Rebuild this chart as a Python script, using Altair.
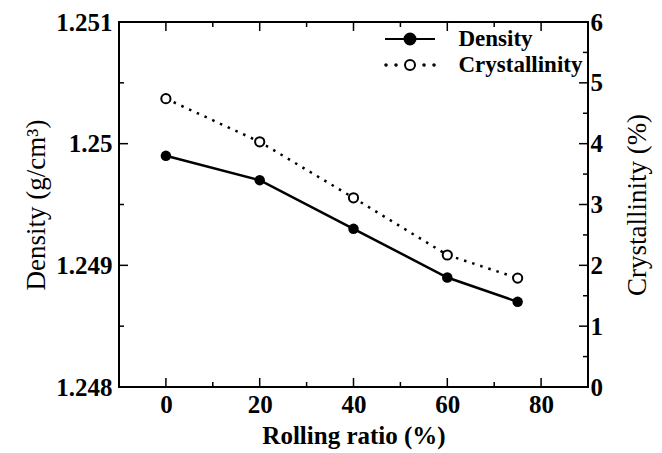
import json
import altair as alt
import pandas as pd

# ---- data ----
ratio = [0, 20, 40, 60, 75]
density = [1.2499, 1.2497, 1.2493, 1.2489, 1.2487]
crystallinity = [4.74, 4.03, 3.11, 2.17, 1.79]
series_names = ["Density", "Crystallinity"]

x_major = [0, 20, 40, 60, 80]
x_minor = [10, 30, 50, 70]
dens_major = [1.248, 1.249, 1.25, 1.251]
dens_minor = [1.2485, 1.2495, 1.2505]
cry_major = [0, 1, 2, 3, 4, 5, 6]
cry_minor = [0.5, 1.5, 2.5, 3.5, 4.5, 5.5]

df = pd.DataFrame({"ratio": ratio, "density": density, "cryst": crystallinity})

FONT = "Liberation Serif"
W, H = 469, 365
MAJ, MIN = 9, 5

xs = alt.Scale(domain=[-10, 90], nice=False, zero=False)
ds = alt.Scale(domain=[1.248, 1.251], nice=False, zero=False)
cs = alt.Scale(domain=[0, 6], nice=False, zero=False)

lab = dict(labelFont=FONT, labelFontWeight="bold", labelFontSize=25, labelColor="black")

x_axis = alt.Axis(
    orient="bottom", values=x_major, ticks=False, domain=False, grid=False,
    labelPadding=5, title="Rolling ratio (%)", titleFont=FONT, titleFontWeight="bold",
    titleFontSize=25, titleColor="black", titlePadding=6, **lab)

dens_axis = alt.Axis(
    orient="left", values=dens_major, format="~g", ticks=False, domain=False, grid=False,
    labelPadding=7, title="Density (g/cm³)", titleFont=FONT, titleFontWeight="normal",
    titleFontSize=27, titleColor="black", titlePadding=5, **lab)

cry_axis = alt.Axis(
    orient="right", values=cry_major, ticks=False, domain=False, grid=False,
    labelPadding=2, title="Crystallinity (%)", titleFont=FONT, titleFontWeight="normal",
    titleFontSize=27, titleColor="black", titlePadding=22, titleAngle=270,
    titleBaseline="top", **lab)

base = alt.Chart(df)


def X(field):
    return alt.X(field, type="quantitative", scale=xs, axis=x_axis)


dens_line = base.mark_line(color="black", strokeWidth=2.5).encode(
    x=X("ratio"), y=alt.Y("density:Q", scale=ds, axis=dens_axis))
dens_pts = base.mark_point(filled=True, color="black", size=110, opacity=1).encode(
    x=X("ratio"), y=alt.Y("density:Q", scale=ds, axis=dens_axis))

cry_line = base.mark_line(color="black", strokeWidth=2.5, strokeDash=[2.5, 6]).encode(
    x=X("ratio"), y=alt.Y("cryst:Q", scale=cs, axis=cry_axis))
cry_pts = base.mark_point(filled=True, fill="white", stroke="black", strokeWidth=2,
                          size=85, opacity=1).encode(
    x=X("ratio"), y=alt.Y("cryst:Q", scale=cs, axis=cry_axis))


# inward tick marks: short rules at scale positions along each frame edge;
# the tick rows are derived from the main table (one row, flattened tick list)
def rule(values, **enc):
    return (base.transform_window(rn="row_number()")
            .transform_filter("datum.rn == 1")
            .transform_calculate(v=json.dumps(values))
            .transform_flatten(["v"])
            .mark_rule(color="black", strokeWidth=1.5, opacity=1)
            .encode(**enc))


def x_ticks(values, length):
    bottom = rule(values, x=X("v"), y=alt.value(H), y2=alt.value(H - length))
    top = rule(values, x=X("v"), y=alt.value(0), y2=alt.value(length))
    return [bottom, top]


def y_ticks(values, scale, axis, edge, length):
    return rule(values, y=alt.Y("v:Q", scale=scale, axis=axis),
                x=alt.value(edge), x2=alt.value(edge + length))


dens_ticks = (x_ticks(x_major, MAJ) + x_ticks(x_minor, MIN)
              + [y_ticks(dens_major, ds, dens_axis, 0, MAJ),
                 y_ticks(dens_minor, ds, dens_axis, 0, MIN)])
cry_ticks = [y_ticks(cry_major, cs, cry_axis, W, -MAJ),
             y_ticks(cry_minor, cs, cry_axis, W, -MIN)]

# legend symbols: line + marker glyphs as custom symbol paths
path_d = "M-2,0L2,0M0.44,0A0.44,0.44,0,1,1,-0.44,0A0.44,0.44,0,1,1,0.44,0Z"


def dot(cx, r=0.06):
    return f"M{cx + r},0A{r},{r},0,1,1,{cx - r},0A{r},{r},0,1,1,{cx + r},0Z"


path_c = ("M0.4,0A0.4,0.4,0,1,1,-0.4,0A0.4,0.4,0,1,1,0.4,0Z"
          + dot(-1.92) + dot(-1.12) + dot(1.12) + dot(1.92))

leg = dict(orient="none", legendX=277.5, legendY=3.5, title=None, symbolSize=625,
           symbolStrokeWidth=2, symbolOpacity=1,
           labelFont=FONT, labelFontWeight="bold", labelFontSize=23, labelColor="black",
           labelOffset=35, rowPadding=0, padding=0)

legend_layer = base.transform_calculate(series="'Density'").transform_filter("false").mark_point(
    strokeWidth=2, opacity=1
).encode(
    shape=alt.Shape("series:N", scale=alt.Scale(domain=series_names, range=[path_d, path_c]),
                    legend=alt.Legend(**leg)),
    fill=alt.Fill("series:N", scale=alt.Scale(domain=series_names, range=["black", "white"]),
                  legend=alt.Legend(**leg)),
    stroke=alt.Stroke("series:N", scale=alt.Scale(domain=series_names, range=["black", "black"]),
                      legend=alt.Legend(**leg)),
)

dens_group = alt.layer(*dens_ticks, dens_line, dens_pts, legend_layer)
cry_group = alt.layer(*cry_ticks, cry_line, cry_pts)

chart = alt.layer(dens_group, cry_group).resolve_scale(
    y="independent"
).properties(
    width=W, height=H,
    autosize=alt.AutoSizeParams(type="none"),
    padding={"left": 119, "top": 22, "right": 74, "bottom": 66},
    background="white",
).configure_view(stroke="black", strokeWidth=2)

chart.save("out.html", embed_options={"renderer": "svg", "actions": False})
